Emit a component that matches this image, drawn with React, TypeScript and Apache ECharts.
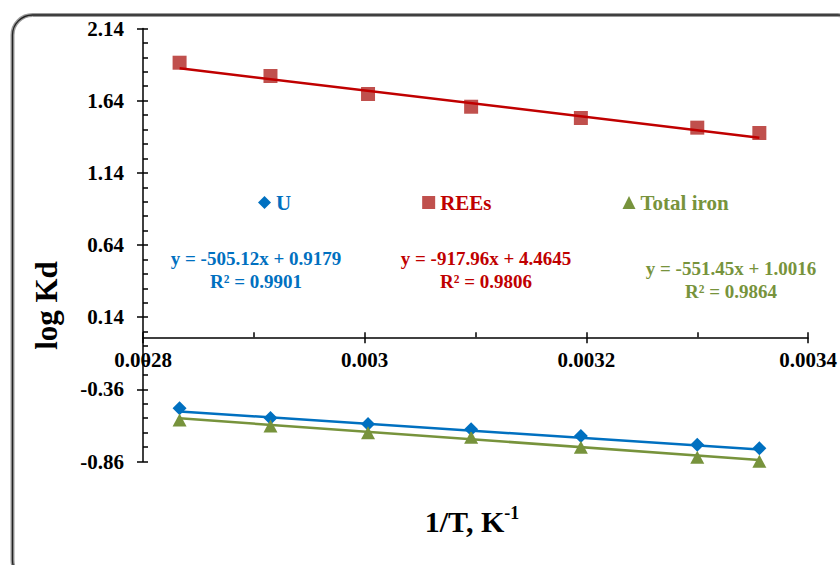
import React, { useEffect, useRef } from "react";
import * as echarts from "echarts";

const seriesNames = ["U", "REEs", "Total iron"];
const xValues = [0.002833, 0.002915, 0.003003, 0.003096, 0.003195, 0.0033, 0.003356];
const uValues = [-0.491, -0.559, -0.6, -0.637, -0.683, -0.744, -0.769];
const reeValues = [1.903, 1.811, 1.686, 1.598, 1.52, 1.453, 1.416];
const ironValues = [-0.573, -0.614, -0.661, -0.692, -0.762, -0.831, -0.859];
const slopes = [-505.12, -917.96, -551.45];
const intercepts = [0.9179, 4.4645, 1.0016];
const rSquared = ["0.9901", "0.9806", "0.9864"];
const yTicks = [-0.86, -0.36, 0.14, 0.64, 1.14, 1.64, 2.14];
const xTicks = [0.0028, 0.003, 0.0032, 0.0034];
const xMinorTicks = [0.0029, 0.0031, 0.0033];

const Y_MIN = -0.86;
const Y_MAX = 2.14;
const GRID_TOP = 28.5;
const GRID_BOTTOM = 103.5;
const CHART_H = 565;

const markerColors = ["#0070C0", "#C0504D", "#77933C"];
const lineColors = ["#0070C0", "#C00000", "#77933C"];
const textColors = ["#0070C0", "#C00000", "#77933C"];
const symbols = ["diamond", "rect", "triangle"];
const symbolSizes: any[] = [14, 14, [14, 13]];
const eqPos = [
  [256, 269.5],
  [486, 269.5],
  [731, 279.5],
];

const FONT = "'Liberation Serif', 'Times New Roman', serif";

export default function App() {
  const ref = useRef<HTMLDivElement>(null);
  useEffect(() => {
    if (!ref.current) return;
    const chart = echarts.init(ref.current, null, { renderer: "svg" });
    const valueSets = [uValues, reeValues, ironValues];
    const yMinor: number[] = [];
    for (let k = 0; k <= 30; k++) yMinor.push(Number((Y_MIN + k * 0.1).toFixed(2)));
    const fmt = (v: number) => String(Number(v.toFixed(5)));

    // x axis sits at y = 0: shift it up from the grid's bottom edge
    const plotH = CHART_H - GRID_TOP - GRID_BOTTOM;
    const zeroOffset = -((0 - Y_MIN) / (Y_MAX - Y_MIN)) * plotH;

    const scatterSeries = seriesNames.map((name, i) => ({
      name,
      type: "scatter",
      data: xValues.map((x, j) => [x, valueSets[i][j]]),
      symbol: symbols[i],
      symbolSize: symbolSizes[i],
      itemStyle: { color: markerColors[i], opacity: 1 },
      z: 2,
    }));
    const trendSeries = seriesNames.map((name, i) => {
      const x0 = xValues[0];
      const x1 = xValues[xValues.length - 1];
      return {
        name: name + " trend",
        type: "line",
        data: [
          [x0, slopes[i] * x0 + intercepts[i]],
          [x1, slopes[i] * x1 + intercepts[i]],
        ],
        symbol: "none",
        lineStyle: { color: lineColors[i], width: 2.5 },
        z: 3,
        silent: true,
      };
    });

    const eqGraphics = seriesNames.map((_, i) => ({
      type: "text",
      x: eqPos[i][0],
      y: eqPos[i][1],
      style: {
        text: `y = ${slopes[i]}x + ${intercepts[i]}\nR² = ${rSquared[i]}`,
        font: `bold 19px ${FONT}`,
        fill: textColors[i],
        align: "center",
        verticalAlign: "middle",
        lineHeight: 23,
      },
      z: 10,
    }));

    chart.setOption({
      animation: false,
      grid: { left: 143, right: 28, top: GRID_TOP, bottom: GRID_BOTTOM, containLabel: false },
      legend: {
        left: 253,
        top: 187,
        itemGap: 131,
        itemWidth: 13,
        itemHeight: 13,
        data: seriesNames.map((n, i) => ({
          name: n,
          icon: symbols[i],
          textStyle: { color: textColors[i] },
        })),
        textStyle: { fontFamily: FONT, fontWeight: "bold", fontSize: 21 },
        selectedMode: false,
      },
      xAxis: [
        {
          type: "value",
          min: 0.0028,
          max: 0.0034,
          position: "bottom",
          offset: zeroOffset,
          axisLine: { onZero: false, lineStyle: { color: "#000", width: 1.5 } },
          axisTick: { show: true, customValues: xTicks, length: 6, lineStyle: { color: "#000", width: 1.5 } },
          axisLabel: {
            customValues: xTicks,
            formatter: (v: number) => fmt(v),
            color: "#000",
            fontFamily: FONT,
            fontWeight: "bold",
            fontSize: 21,
            margin: 12,
          },
          splitLine: { show: false },
        },
        {
          type: "value",
          min: 0.0028,
          max: 0.0034,
          position: "bottom",
          offset: zeroOffset,
          axisLine: { show: false, onZero: false },
          axisTick: {
            show: true,
            inside: true,
            customValues: [...xTicks, ...xMinorTicks],
            length: 5,
            lineStyle: { color: "#000", width: 1.5 },
          },
          axisLabel: { show: false },
          splitLine: { show: false },
        },
      ],
      yAxis: [
        {
          type: "value",
          min: Y_MIN,
          max: Y_MAX,
          axisLine: { show: true, onZero: false, lineStyle: { color: "#000", width: 1.5 } },
          axisTick: { show: true, customValues: yTicks, length: 6, lineStyle: { color: "#000", width: 1.5 } },
          axisLabel: {
            customValues: yTicks,
            formatter: (v: number) => fmt(v),
            color: "#000",
            fontFamily: FONT,
            fontWeight: "bold",
            fontSize: 21,
            margin: 19,
          },
          splitLine: { show: false },
        },
        {
          type: "value",
          min: Y_MIN,
          max: Y_MAX,
          position: "left",
          axisLine: { show: false, onZero: false },
          axisTick: {
            show: true,
            inside: true,
            customValues: yMinor,
            length: 5,
            lineStyle: { color: "#000", width: 1.5 },
          },
          axisLabel: { show: false },
          splitLine: { show: false },
        },
      ],
      series: [...scatterSeries, ...trendSeries],
      graphic: [
        {
          type: "rect",
          shape: { x: 12.5, y: 15, width: 845, height: 565, r: 20 },
          style: { fill: "none", stroke: "#9a9a9a", lineWidth: 4 },
          z: 0,
        },
        {
          type: "rect",
          shape: { x: 12.5, y: 15, width: 845, height: 565, r: 20 },
          style: { fill: "none", stroke: "#222", lineWidth: 1.3 },
          z: 0,
        },
        {
          type: "text",
          x: 46,
          y: 305.5,
          rotation: Math.PI / 2,
          style: {
            text: "log Kd",
            font: `bold 31px ${FONT}`,
            fill: "#000",
            align: "center",
            verticalAlign: "middle",
          },
        },
        {
          type: "text",
          x: 472,
          y: 520,
          style: {
            text: "{a|1/T, K}{b|-1}",
            align: "center",
            verticalAlign: "middle",
            rich: {
              a: { font: `bold 30px ${FONT}`, fill: "#000", verticalAlign: "bottom", lineHeight: 32 },
              b: { font: `bold 18px ${FONT}`, fill: "#000", verticalAlign: "top", lineHeight: 32 },
            },
          },
        },
        ...eqGraphics,
      ],
    });
    return () => chart.dispose();
  }, []);
  return (
    <div
      ref={ref}
      style={{ position: "fixed", left: 0, top: 0, width: 840, height: 565, background: "#fff" }}
    />
  );
}
